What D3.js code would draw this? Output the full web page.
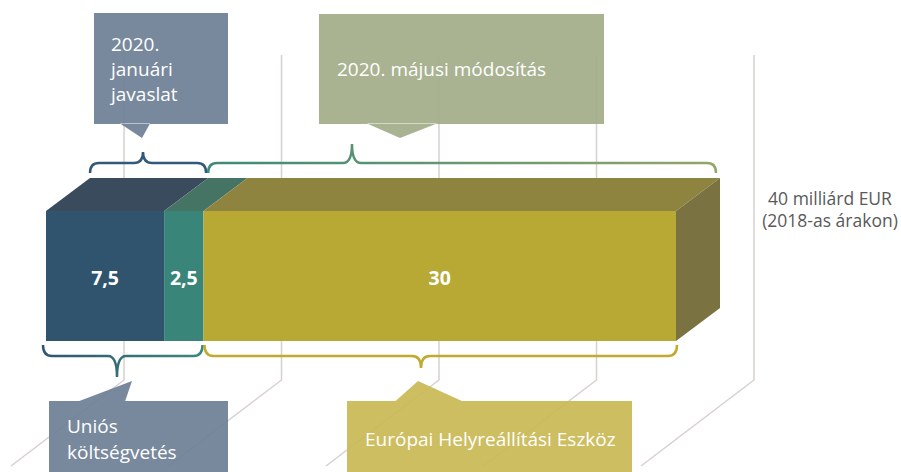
<!DOCTYPE html>
<html>
<head>
<meta charset="utf-8">
<script src="https://cdn.jsdelivr.net/npm/d3@7"></script>
<style>
  body { margin: 0; background: #fff; }
  text { font-family: "Open Sans", "Noto Sans", sans-serif; }
</style>
</head>
<body>
<div id="chart"></div>
<script>
// data
var segmentNames = ["Uniós költségvetés", "Uniós költségvetés (kiegészítés)", "Európai Helyreállítási Eszköz"];
var segmentValues = [7.5, 2.5, 30];
var segmentLabels = ["7,5", "2,5", "30"];
var gridTicks = [0, 10, 20, 30, 40];
var totalLabel = ["40 milliárd EUR", "(2018-as árakon)"];
var topCallouts = [
  { lines: ["2020.", "januári", "javaslat"], from: 0, to: 7.5 },
  { lines: ["2020. májusi módosítás"], from: 7.5, to: 40 }
];
var bottomCallouts = [
  { lines: ["Uniós", "költségvetés"], from: 0, to: 10 },
  { lines: ["Európai Helyreállítási Eszköz"], from: 10, to: 40 }
];

var svgWidth = 901;
var svgHeight = 472;

var svg = d3.select("#chart")
  .append("svg")
  .attr("width", svgWidth)
  .attr("height", svgHeight);

var defs = svg.append("defs");
function grad(id, c1, c2) {
  var g = defs.append("linearGradient").attr("id", id)
    .attr("x1", "0%").attr("x2", "100%").attr("y1", "0%").attr("y2", "0%");
  g.append("stop").attr("offset", "0%").attr("stop-color", c1);
  g.append("stop").attr("offset", "100%").attr("stop-color", c2);
}
grad("gTop2", "#3d8a78", "#93a56a");
grad("gBot1", "#2f5573", "#3a8a7a");

// scales
var x = d3.scaleLinear().domain([0, 40]).range([46, 676]);
var barTop = 211, barBottom = 341;
var depthX = 44, depthY = 33;

// 3D grid: back wall verticals + floor diagonals
var gridOff = 78;
var grid = svg.append("g").attr("stroke", "#d6d1cd").attr("stroke-width", 1.5).attr("fill", "none");
gridTicks.forEach(function(t) {
  var gx = x(t) + gridOff;
  grid.append("path")
    .attr("d", "M" + gx + ",55 L" + gx + ",380 L" + (gx - 113) + ",466");
});

// stacked bar
var stack = [];
var acc = 0;
segmentValues.forEach(function(v, i) {
  stack.push({ x0: acc, x1: acc + v, label: segmentLabels[i], name: segmentNames[i] });
  acc += v;
});
var frontColors = ["#30546e", "#3a857a", "#b8a834"];
var topColors = ["#394b5c", "#457465", "#8e843f"];

var bar = svg.append("g");
bar.selectAll(".top")
  .data(stack)
  .enter()
  .append("path")
  .attr("fill", (d, i) => topColors[i])
  .attr("d", function(d) {
    return "M" + x(d.x0) + "," + barTop +
      " L" + (x(d.x0) + depthX) + "," + (barTop - depthY) +
      " L" + (x(d.x1) + depthX) + "," + (barTop - depthY) +
      " L" + x(d.x1) + "," + barTop + "Z";
  });
bar.selectAll(".front")
  .data(stack)
  .enter()
  .append("rect")
  .attr("x", d => x(d.x0))
  .attr("y", barTop)
  .attr("width", d => x(d.x1) - x(d.x0))
  .attr("height", barBottom - barTop)
  .attr("fill", (d, i) => frontColors[i]);
var xEnd = x(acc);
bar.append("path")
  .attr("fill", "#7a7240")
  .attr("d", "M" + xEnd + "," + barTop + " L" + (xEnd + depthX) + "," + (barTop - depthY) +
    " L" + (xEnd + depthX) + "," + (barBottom - depthY) + " L" + xEnd + "," + barBottom + "Z");

bar.selectAll(".val")
  .data(stack)
  .enter()
  .append("text")
  .attr("x", d => (x(d.x0) + x(d.x1)) / 2)
  .attr("y", 285)
  .attr("text-anchor", "middle")
  .attr("fill", "#fff")
  .attr("font-weight", "bold")
  .attr("font-size", 19.5)
  .text(d => d.label);

// braces
function brace(x1, x2, xc, yEnd, yH, yTip, r) {
  return "M" + x1 + "," + yEnd +
    " Q" + x1 + "," + yH + " " + (x1 + r) + "," + yH +
    " L" + (xc - r) + "," + yH +
    " Q" + xc + "," + yH + " " + xc + "," + yTip +
    " Q" + xc + "," + yH + " " + (xc + r) + "," + yH +
    " L" + (x2 - r) + "," + yH +
    " Q" + x2 + "," + yH + " " + x2 + "," + yEnd;
}
var braces = svg.append("g").attr("fill", "none").attr("stroke-width", 2.5);
braces.append("path").attr("stroke", "#33597a")
  .attr("d", brace(x(topCallouts[0].from) + depthX, x(topCallouts[0].to) + depthX - 2, 143, 173, 163, 152, 9));
braces.append("path").attr("stroke", "url(#gTop2)")
  .attr("d", brace(x(topCallouts[1].from) + depthX, x(topCallouts[1].to) + depthX - 4, 352, 173, 163, 144, 9));
braces.append("path").attr("stroke", "url(#gBot1)")
  .attr("d", brace(x(bottomCallouts[0].from) - 3, x(bottomCallouts[0].to) - 1, 117, 345, 356, 377, 9));
braces.append("path").attr("stroke", "#c0ab2e")
  .attr("d", brace(x(bottomCallouts[1].from) + 1, x(bottomCallouts[1].to) + 1, 421, 345, 356, 368, 9));

// callout boxes
function callout(box, ptr, fill, lines, tx, ty, lh) {
  var g = svg.append("g");
  g.append("path")
    .attr("fill", fill)
    .attr("fill-opacity", 0.93)
    .attr("d", "M" + box[0] + "," + box[1] + " H" + box[2] + " V" + box[3] + " H" + box[0] + "Z" +
      " M" + ptr.map(p => p.join(",")).join(" L") + "Z");
  g.selectAll("text")
    .data(lines)
    .enter()
    .append("text")
    .attr("x", tx)
    .attr("y", (d, i) => ty + i * lh)
    .attr("fill", "#fff")
    .attr("font-size", 19)
    .text(d => d);
}
callout([94, 13, 228, 124], [[120, 123.5], [142, 138], [150, 123.5]], "#6e8096", topCallouts[0].lines, 111, 51, 25);
callout([319, 14, 604, 124], [[367, 123.5], [400, 138], [437, 123.5]], "#a3ad8a", topCallouts[1].lines, 337, 76, 25);
callout([49, 401, 228, 480], [[78, 401.5], [132, 381], [125, 401.5]], "#6e8096", bottomCallouts[0].lines, 67, 433, 26);
callout([347, 401, 632, 480], [[395, 401.5], [418, 381], [463, 401.5]], "#c9b955", bottomCallouts[1].lines, 365, 446, 26);

// total label
svg.append("g").selectAll("text")
  .data(totalLabel)
  .enter()
  .append("text")
  .attr("x", 830)
  .attr("y", (d, i) => 205 + i * 22)
  .attr("text-anchor", "middle")
  .attr("fill", "#595959")
  .attr("font-size", 17.5)
  .text(d => d);
</script>
</body>
</html>
